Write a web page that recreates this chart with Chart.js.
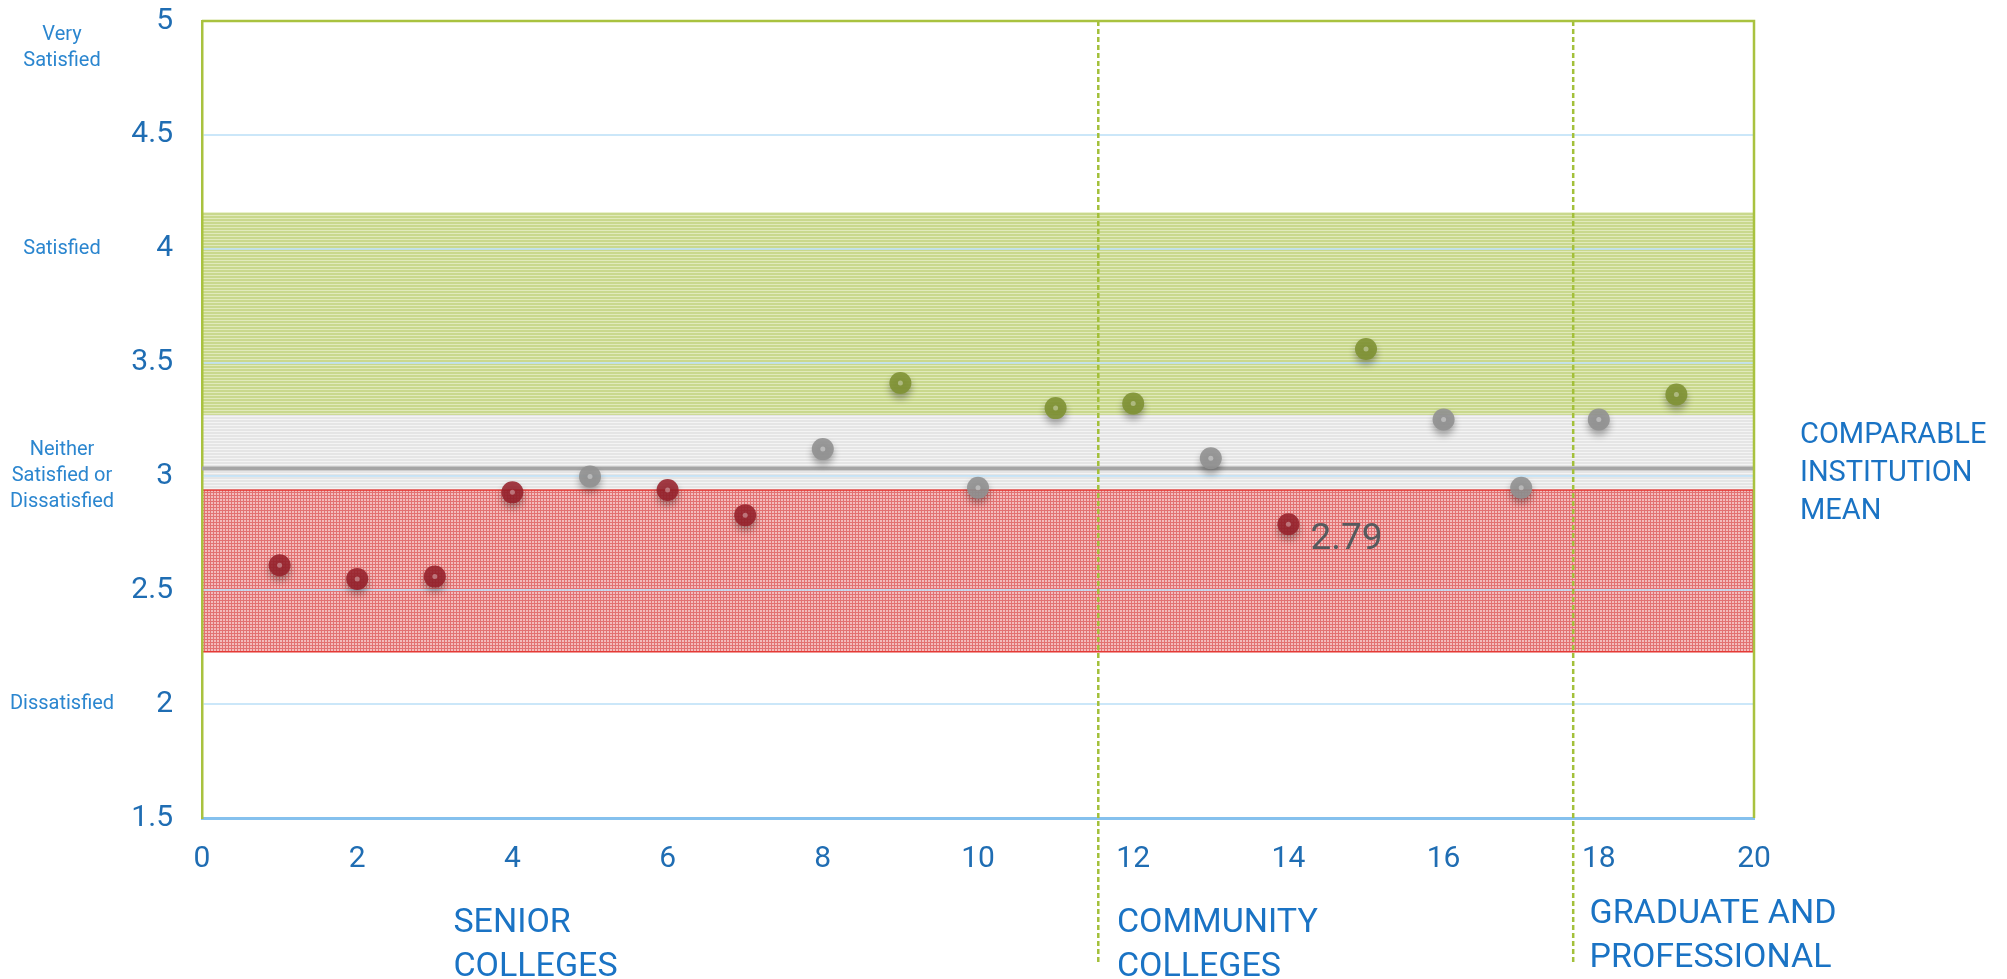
<!DOCTYPE html>
<html>
<head>
<meta charset="utf-8">
<script src="https://cdn.jsdelivr.net/npm/chart.js@4.4.1/dist/chart.umd.min.js"></script>
<style>
  html, body { margin: 0; padding: 0; background: #fff; }
</style>
</head>
<body>
<canvas id="chart" width="2007" height="979"></canvas>
<script>
// institution index along x, mean satisfaction score along y
const institutions = [1, 2, 3, 4, 5, 6, 7, 8, 9, 10, 11, 12, 13, 14, 15, 16, 17, 18, 19]
const scores = [2.61, 2.55, 2.56, 2.93, 3.00, 2.94, 2.83, 3.12, 3.41, 2.95, 3.30, 3.32, 3.08, 2.79, 3.56, 3.25, 2.95, 3.25, 3.36]
const tiers = ['below', 'below', 'below', 'below', 'near', 'below', 'below', 'near', 'above', 'near',
               'above', 'above', 'near', 'below', 'above', 'near', 'near', 'near', 'above']

const comparableMean = 3.035
const bandNames = ['above', 'near', 'below']
const bandLow = [3.27, 2.94, 2.23]
const bandHigh = [4.16, 3.27, 2.94]

const ratingLabels = [['Very', 'Satisfied'], ['Satisfied'], ['Neither', 'Satisfied or', 'Dissatisfied'], ['Dissatisfied']]
const ratingAt = [4.88, 4, 3, 2]

const groupLabels = [['SENIOR', 'COLLEGES'], ['COMMUNITY', 'COLLEGES'], ['GRADUATE AND', 'PROFESSIONAL']]
const groupStart = [3.24, 11.79, 17.88]
const dividers = [11.55, 17.67]

const annotated = 14   // institution whose score is printed

const FONT = 'Roboto'
const pointColors = { below: 'rgba(150, 32, 42, 0.87)', near: 'rgba(145, 145, 145, 0.9)', above: 'rgba(128, 146, 52, 0.9)' }

const makePattern = (w, h, draw) => {
    const c = document.createElement('canvas')
    c.width = w
    c.height = h
    draw(c.getContext('2d'))
    return c
}

const tiles = {
    above: makePattern(1, 3, g => {
        g.fillStyle = '#c9d88d'; g.fillRect(0, 0, 1, 2)
        g.fillStyle = '#e1eabb'; g.fillRect(0, 2, 1, 1)
    }),
    near: makePattern(1, 3, g => {
        g.fillStyle = '#e5e5e5'; g.fillRect(0, 0, 1, 2)
        g.fillStyle = '#f4f4f4'; g.fillRect(0, 2, 1, 1)
    }),
    below: makePattern(3, 3, g => {
        g.fillStyle = '#f3bcbc'; g.fillRect(0, 0, 3, 3)
        g.fillStyle = '#e27272'; g.fillRect(0, 0, 3, 1); g.fillRect(0, 0, 1, 3)
    })
}

const bandsPlugin = {
    id: 'bands',
    beforeDraw(chart) {
        const { ctx, chartArea, scales: { y } } = chart
        ctx.save()
        bandNames.forEach((name, i) => {
            const top = y.getPixelForValue(bandHigh[i])
            const bottom = y.getPixelForValue(bandLow[i])
            ctx.fillStyle = ctx.createPattern(tiles[name], 'repeat')
            ctx.fillRect(chartArea.left, top, chartArea.width, bottom - top)
            if (name === 'below') {
                ctx.strokeStyle = '#e53935'
                ctx.lineWidth = 1.5
                ctx.strokeRect(chartArea.left, top, chartArea.width, bottom - top)
            }
        })
        ctx.restore()
    }
}

const shadowPlugin = {
    id: 'shadow',
    beforeDatasetDraw(chart, args) {
        if (!args.meta._dataset.shadow) return
        const ctx = chart.ctx
        ctx.save()
        ctx.shadowColor = 'rgba(0, 0, 0, 0.35)'
        ctx.shadowBlur = 7
        ctx.shadowOffsetY = 5
    },
    afterDatasetDraw(chart, args) {
        if (!args.meta._dataset.shadow) return
        const ctx = chart.ctx
        ctx.restore()
        // little highlight in the middle of every dot
        ctx.save()
        ctx.fillStyle = 'rgba(255, 255, 255, 0.35)'
        args.meta.data.forEach(p => {
            ctx.beginPath()
            ctx.arc(p.x, p.y, 2.5, 0, Math.PI * 2)
            ctx.fill()
        })
        ctx.restore()
    }
}

const decorPlugin = {
    id: 'decor',
    afterDatasetsDraw(chart) {
        const { ctx, chartArea, scales: { x } } = chart
        ctx.save()
        ctx.strokeStyle = '#a3c03a'
        ctx.lineWidth = 2.5
        ctx.setLineDash([5, 3])
        dividers.forEach(v => {
            const px = x.getPixelForValue(v)
            ctx.beginPath()
            ctx.moveTo(px, chartArea.top)
            ctx.lineTo(px, 965)
            ctx.stroke()
        })
        ctx.setLineDash([])
        // plot frame, top and right
        ctx.strokeStyle = '#a9c23f'
        ctx.lineWidth = 2.5
        ctx.beginPath()
        ctx.moveTo(chartArea.left, chartArea.top)
        ctx.lineTo(chartArea.right, chartArea.top)
        ctx.lineTo(chartArea.right, chartArea.bottom)
        ctx.stroke()
        ctx.restore()
    },
    afterDraw(chart) {
        const { ctx, chartArea, scales: { x, y } } = chart
        ctx.save()
        ctx.textBaseline = 'middle'

        ctx.fillStyle = '#2b86cf'
        ctx.textAlign = 'center'
        ctx.font = `20px ${FONT}`
        ratingLabels.forEach((lines, i) => {
            const cy = y.getPixelForValue(ratingAt[i])
            lines.forEach((t, j) => ctx.fillText(t, 62, cy + (j - (lines.length - 1) / 2) * 26))
        })

        ctx.fillStyle = '#1a73c4'
        ctx.textAlign = 'left'
        ctx.font = `29px ${FONT}`
        const my = y.getPixelForValue(comparableMean) + 5
        ;['COMPARABLE', 'INSTITUTION', 'MEAN'].forEach((t, j) => ctx.fillText(t, chartArea.right + 46, my + (j - 1) * 38))

        ctx.font = `34px ${FONT}`
        groupLabels.forEach((lines, i) => {
            const top = i === 2 ? 914 : 923
            lines.forEach((t, j) => ctx.fillText(t, x.getPixelForValue(groupStart[i]), top + j * 44))
        })

        const idx = institutions.indexOf(annotated)
        ctx.fillStyle = '#555a5e'
        ctx.font = `37px ${FONT}`
        ctx.fillText(scores[idx].toFixed(2), x.getPixelForValue(institutions[idx]) + 22, y.getPixelForValue(scores[idx]) + 16)
        ctx.restore()
    }
}

const tierDatasets = bandNames.map(tier => ({
    label: tier,
    shadow: true,
    order: 0,
    data: institutions.map((n, i) => ({ x: n, y: scores[i] })).filter((d, i) => tiers[i] === tier),
    backgroundColor: pointColors[tier],
    borderWidth: 0,
    pointRadius: 11,
    pointHoverRadius: 11
}))

const chart = new Chart(document.getElementById('chart'), {
    type: 'scatter',
    data: {
        datasets: [
            {
                label: 'comparable institution mean',
                type: 'line',
                order: 10,
                data: [{ x: 0, y: comparableMean }, { x: 20, y: comparableMean }],
                borderColor: '#a5a5a5',
                borderWidth: 4,
                pointRadius: 0
            },
            ...tierDatasets
        ]
    },
    options: {
        responsive: false,
        animation: false,
        layout: { padding: { top: 21, right: 253, left: 0, bottom: 0 } },
        plugins: { legend: { display: false }, tooltip: { enabled: false } },
        scales: {
            x: {
                type: 'linear',
                min: 0,
                max: 20,
                ticks: { stepSize: 2, color: '#1f6db3', font: { family: FONT, size: 30 }, padding: 23 },
                grid: { display: false, drawTicks: false },
                border: { color: '#85c1ee', width: 3 },
                afterFit: s => { s.height = 161 }
            },
            y: {
                min: 1.5,
                max: 5,
                ticks: { stepSize: 0.5, color: '#1f6db3', font: { family: FONT, size: 30 }, padding: 29, callback: v => String(v) },
                grid: { color: 'rgba(190, 225, 248, 0.8)', lineWidth: 2, drawTicks: false },
                border: { color: '#a9c23f', width: 2.5 },
                afterFit: s => { s.width = 202; s.paddingTop = 0; s.paddingBottom = 0 }
            }
        }
    },
    plugins: [bandsPlugin, shadowPlugin, decorPlugin]
})
</script>
</body>
</html>
